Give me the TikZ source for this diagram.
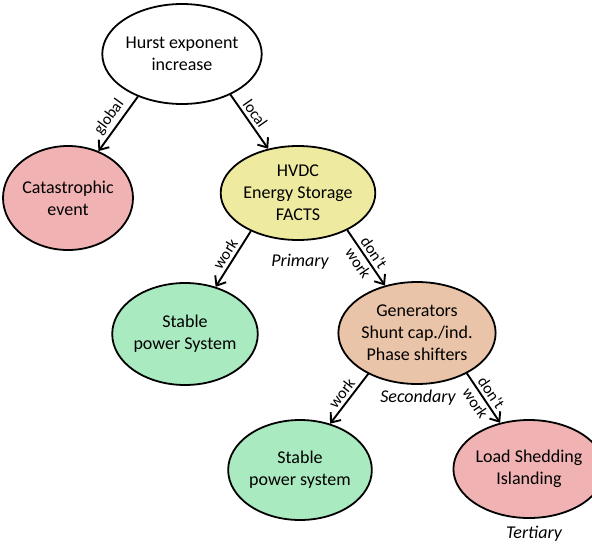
\documentclass[tikz,border=0pt]{standalone}
\usepackage{fontspec}
\setmainfont{Carlito}
\usetikzlibrary{arrows.meta, positioning, shapes.geometric}
\definecolor{riskfill}{HTML}{F0B2B2}
\definecolor{primaryfill}{HTML}{EEEBA0}
\definecolor{stablefill}{HTML}{AAEAC0}
\definecolor{secondaryfill}{HTML}{EAC4A8}

\begin{document}
\begin{tikzpicture}[
        x=1pt, y=1pt,
        stateoval/.style={
            draw,
            ellipse,
            line width=1.8pt,
            inner sep=0pt,
            align=center,
            font=\fontsize{18}{22}\selectfont
        },
        branch/.style={-{Straight Barb[length=8pt, width=13pt]}, line width=1.9pt},
        branchlabel/.style={font=\fontsize{16}{18}\selectfont, sloped, inner sep=3pt},
        tierlabel/.style={font=\fontsize{18}{20}\selectfont\itshape}
    ]
        \useasboundingbox (0,0) rectangle (592,-546);

        \node[stateoval, fill=white, minimum width=122pt, minimum height=100pt] (hurst) at (182,-54) {Hurst exponent\\increase};
        \node[stateoval, fill=riskfill, minimum width=130pt, minimum height=104pt] (catastrophic) at (68,-198) {Catastrophic\\event};
        \node[stateoval, fill=primaryfill, minimum width=122pt, minimum height=94pt] (primary) at (298,-193) {HVDC\\Energy Storage\\FACTS};
        \node[stateoval, fill=stablefill, minimum width=124pt, minimum height=102pt] (stableone) at (185,-334) {Stable\\power System};
        \node[stateoval, fill=secondaryfill, minimum width=124pt, minimum height=102pt] (secondary) at (417,-333) {Generators\\Shunt cap./ind.\\Phase shifters};
        \node[stateoval, fill=stablefill, minimum width=126pt, minimum height=100pt] (stabletwo) at (300,-470) {Stable\\power system};
        \node[stateoval, fill=riskfill, minimum width=118pt, minimum height=98pt] (tertiary) at (529,-469) {Load Shedding\\Islanding};

        \node[tierlabel] (primarytag) at (300,-262) {Primary};
        \node[tierlabel] (secondarytag) at (418,-398) {Secondary};
        \node[tierlabel] (tertiarytag) at (534,-534) {Tertiary};

        \draw[branch] (hurst.224) -- node[branchlabel, above] {global} (catastrophic.57);
        \draw[branch] (hurst.320) -- node[branchlabel, above, pos=0.45] {local} (primary.124);
        \draw[branch] (primary.219) -- node[branchlabel, above] {work} (stableone.57);
        \draw[branch] (primary.323)
            -- node[branchlabel, above] {don't}
               node[branchlabel, below] {work}
            (secondary.124);
        \draw[branch] (secondary.220) -- node[branchlabel, above] {work} (stabletwo.57);
        \draw[branch] (secondary.321)
            -- node[branchlabel, above] {don't}
               node[branchlabel, below] {work}
            (tertiary.122);
    \end{tikzpicture}
\end{document}
